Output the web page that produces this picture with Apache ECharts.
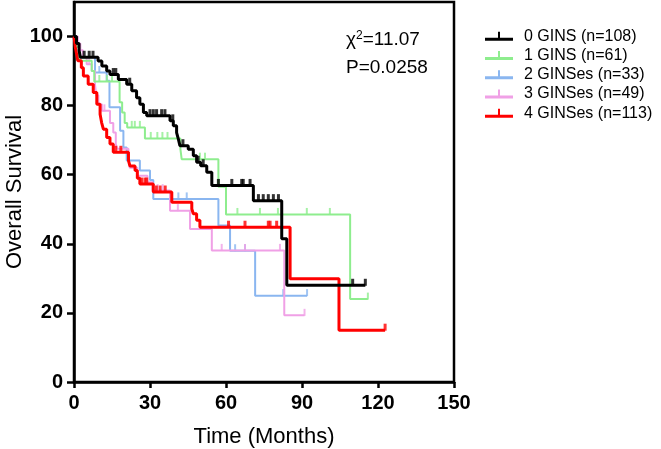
<!DOCTYPE html>
<html>
<head>
    <meta charset="utf-8">
    <title>Overall Survival</title>
    <script src="https://cdn.jsdelivr.net/npm/echarts@6.0.0/dist/echarts.min.js"></script>
    <style>
        body {
            margin: 0;
            padding: 0;
            background: #fff;
            overflow: hidden;
        }

        #chart {
            width: 661px;
            height: 449px;
        }
    </style>
</head>
<body>
    <div id="chart"></div>

    <script>
        // 分组名称和颜色
        const groupNames = ['0 GINS (n=108)', '1 GINS (n=61)', '2 GINSes (n=33)', '3 GINSes (n=49)', '4 GINSes (n=113)'];
        const groupColors = ['#000000', '#8eed8e', '#8ab6f0', '#f0a0e6', '#ff0000'];

        // 生存曲线: 时间(月) / 生存率(%)
        const gins0Time = [0, 1, 2, 2.5, 9.5, 11, 12.9, 14.2, 17.5, 20.8, 22.8, 24.7, 26, 27.4, 28.7, 37.9, 39.2, 40.5, 41.2, 41.8, 45.1, 47.1, 48.4, 50, 52.4, 54.4, 70.8, 82, 84, 115];
        const gins0Surv = [100, 98, 96, 94, 92.9, 91.5, 90, 89, 87.6, 86.2, 84.3, 82.3, 80.4, 78, 77.1, 75.6, 74.2, 72.2, 70.3, 68.4, 67.4, 65.5, 63.6, 62.6, 60.7, 56.9, 52.5, 41.5, 28, 28];
        const gins0Censor = [4, 6, 7.5, 15.5, 16.5, 22, 30, 31.3, 32.6, 34.6, 35.9, 39, 43, 49, 51, 57, 62.3, 66.2, 66.8, 69.5, 72.8, 74.7, 76.7, 78.7, 80.7, 110, 115];

        const gins1Time = [0, 1, 2, 7, 8, 18, 19, 20, 21, 28, 42, 42.5, 57, 60, 109, 116];
        const gins1Surv = [100, 97, 93, 90, 87, 81, 78, 75, 73.7, 70.5, 67.4, 64.5, 56.5, 48.5, 24, 24];
        const gins1Censor = [10, 13, 15, 22.8, 24, 26, 30.3, 32.9, 34.9, 36.9, 49.7, 51.7, 64.5, 73.4, 80.5, 91.9, 101, 116];

        const gins2Time = [0, 1, 2, 8.3, 12.9, 14, 18.2, 19.5, 20.8, 26, 30, 31.3, 57, 61.6, 71.5, 92];
        const gins2Surv = [100, 97, 94, 89.6, 87.2, 79.5, 72.7, 67.9, 64.1, 61.2, 58.5, 53, 45.3, 38, 25, 25];
        const gins2Censor = [10, 41.2, 44.5, 63.6, 67.5, 82.6, 92];

        const gins3Time = [0, 1.5, 2.5, 3.5, 5, 7, 8.3, 8.8, 9.6, 11, 14.2, 15.5, 16.5, 17, 21.5, 22, 25, 29, 31, 37.9, 45.8, 54.4, 83, 91];
        const gins3Surv = [100, 98, 96, 94, 92, 90, 86, 83, 80.4, 78.5, 75, 72.2, 69, 67.5, 65, 62, 59.7, 57.8, 55.4, 49.6, 44.3, 38.1, 19.3, 19.3];
        const gins3Censor = [6, 12, 33, 35, 41, 58.3, 67.5, 81.3, 91];

        const gins4Time = [0, 0.5, 1, 1.5, 2.9, 3.7, 5.6, 7.6, 9, 10.3, 10.9, 11.6, 12.9, 14.2, 15.5, 21.5, 22.1, 24.1, 25, 26, 31.3, 38.6, 46.5, 47.1, 48.4, 49.7, 85.3, 104.6, 122.8];
        const gins4Surv = [100, 97, 95, 93, 91, 88.6, 86.2, 83.8, 80.4, 77.5, 75.1, 73.2, 70.8, 68.9, 66.5, 64.1, 62.5, 61.2, 59, 57.3, 55, 52, 50.1, 48.7, 46.8, 44.8, 29.9, 15, 15];
        const gins4Censor = [16.5, 18.5, 26.7, 28, 28.7, 32.5, 34, 36, 61, 67.5, 76.7, 77.4, 80, 122.8];

        const timeTicks = [0, 30, 60, 90, 120, 150];
        const survTicks = [0, 20, 40, 60, 80, 100];

        const groups = [
            { time: gins0Time, surv: gins0Surv, censor: gins0Censor, width: 3 },
            { time: gins1Time, surv: gins1Surv, censor: gins1Censor, width: 2 },
            { time: gins2Time, surv: gins2Surv, censor: gins2Censor, width: 2 },
            { time: gins3Time, surv: gins3Surv, censor: gins3Censor, width: 2 },
            { time: gins4Time, surv: gins4Surv, censor: gins4Censor, width: 3 }
        ];

        // 删失点落在曲线上
        function survAt(g, t) {
            let s = g.surv[0];
            for (let i = 0; i < g.time.length; i++) {
                if (g.time[i] <= t) s = g.surv[i];
            }
            return s;
        }

        // 绘制顺序: 蓝, 粉, 绿, 红, 黑
        const drawOrder = [2, 3, 1, 4, 0];
        const series = [];
        drawOrder.forEach((gi, k) => {
            const g = groups[gi];
            series.push({
                name: groupNames[gi],
                type: 'line',
                step: 'end',
                showSymbol: false,
                z: 2 + k,
                color: groupColors[gi],
                lineStyle: { color: groupColors[gi], width: g.width },
                data: g.time.map((t, i) => [t, g.surv[i]])
            });
            series.push({
                name: groupNames[gi] + ' censor',
                type: 'scatter',
                symbol: 'rect',
                symbolSize: [g.width, 7],
                symbolOffset: [0, -3],
                z: 2 + k,
                itemStyle: { color: groupColors[gi] },
                data: g.censor.map(t => [t, survAt(g, t)])
            });
        });

        const legendIcon = 'path://M0,6 L13,6 L13,0 L15,0 L15,6 L28,6 L28,9 L0,9 Z';

        const chart = echarts.init(document.getElementById('chart'));
        chart.setOption({
            animation: false,
            backgroundColor: '#fff',
            grid: {
                left: 74,
                right: 207,
                top: 2,
                bottom: 67,
                outerBoundsMode: 'none',
                show: true,
                borderColor: '#000',
                borderWidth: 2.5
            },
            legend: {
                data: groupNames,
                orient: 'vertical',
                left: 480,
                top: 22,
                icon: legendIcon,
                itemWidth: 28,
                itemHeight: 9,
                itemGap: 0.5,
                textStyle: {
                    fontFamily: 'Liberation Sans, Arial',
                    fontSize: 16,
                    lineHeight: 18.7,
                    color: '#000',
                    padding: [0, 0, 0, 6]
                }
            },
            xAxis: {
                type: 'value',
                min: 0,
                max: 150,
                interval: 30,
                name: 'Time (Months)',
                nameLocation: 'middle',
                nameGap: 44,
                nameMoveOverlap: false,
                nameTextStyle: { fontFamily: 'Liberation Sans, Arial', fontSize: 22, color: '#000' },
                axisLine: { lineStyle: { color: '#000', width: 2.5 } },
                axisTick: { length: 6, lineStyle: { color: '#000', width: 2.5 }, customValues: timeTicks },
                axisLabel: {
                    customValues: timeTicks,
                    margin: 11,
                    fontFamily: 'Liberation Sans, Arial',
                    fontWeight: 'bold',
                    fontSize: 20,
                    color: '#000'
                },
                splitLine: { show: false }
            },
            yAxis: {
                type: 'value',
                min: 0,
                max: 110,
                name: 'Overall Survival',
                nameLocation: 'middle',
                nameGap: 48,
                nameMoveOverlap: false,
                nameTextStyle: { fontFamily: 'Liberation Sans, Arial', fontSize: 22, color: '#000' },
                axisLine: { lineStyle: { color: '#000', width: 2.5 } },
                axisTick: { length: 7, lineStyle: { color: '#000', width: 2.5 }, customValues: survTicks },
                axisLabel: {
                    customValues: survTicks,
                    margin: 11,
                    fontFamily: 'Liberation Sans, Arial',
                    fontWeight: 'bold',
                    fontSize: 20,
                    color: '#000'
                },
                splitLine: { show: false }
            },
            graphic: [
                {
                    type: 'text',
                    left: 346,
                    top: 30,
                    style: {
                        text: 'χ{sup|2}=11.07',
                        font: '19px "Liberation Sans", Arial',
                        fill: '#000',
                        rich: {
                            sup: { fontSize: 12, verticalAlign: 'top', padding: [0, 0, 8, 0], fill: '#000' }
                        }
                    }
                },
                {
                    type: 'text',
                    left: 346,
                    top: 58,
                    style: {
                        text: 'P=0.0258',
                        font: '19px "Liberation Sans", Arial',
                        fill: '#000'
                    }
                }
            ],
            series: series
        });
    </script>
</body>
</html>
